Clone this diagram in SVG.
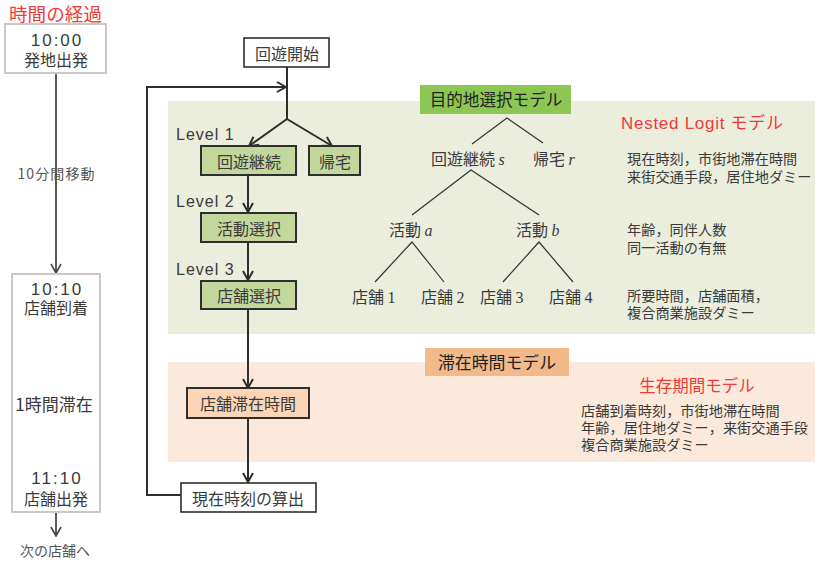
<svg xmlns="http://www.w3.org/2000/svg" width="819" height="562" viewBox="0 0 819 562">
<style>
text{font-family:"Noto Sans CJK JP","Noto Sans",sans-serif;fill:#3a3a3a}
.m{text-anchor:middle}
.c{stroke:#2e2e2e;stroke-width:2;fill:none}
.g{stroke:#5a5a5a;stroke-width:2;fill:none}
.t{stroke:#333;stroke-width:1.2;fill:none}
.n{font-size:16px}
.s{font-size:14.2px}
.lv{font-size:16px;font-family:"Liberation Sans",sans-serif;letter-spacing:1px}
.i{font-family:"Liberation Serif",serif;font-style:italic}
.d{font-family:"Liberation Serif",serif}
.gb{fill:#c3d69b;stroke:#2e2e2e;stroke-width:2}
.wb{fill:#fff;stroke:#2e2e2e;stroke-width:1.6}
.ob{fill:#fbd5b5;stroke:#2e2e2e;stroke-width:2}
.tb{fill:#fff;stroke:#c8c8c8;stroke-width:2}
.red{fill:#f03a3a}
.w{font-family:"Liberation Sans",sans-serif}
.tm{font-family:"Liberation Sans",sans-serif;font-size:17px;letter-spacing:2px}
</style>
<defs>
<marker id="a" viewBox="0 0 12 12" refX="11" refY="6" markerWidth="12" markerHeight="12" markerUnits="userSpaceOnUse" orient="auto"><path d="M2 1L11 6L2 11" fill="none" stroke="#2e2e2e" stroke-width="2"/></marker>
<marker id="b" viewBox="0 0 12 12" refX="11" refY="6" markerWidth="12" markerHeight="12" markerUnits="userSpaceOnUse" orient="auto"><path d="M2 1L11 6L2 11" fill="none" stroke="#444" stroke-width="1.6"/></marker>
</defs>
<g id="panels">
<rect x="168" y="101" width="647" height="233" fill="#ebeedd"/>
<rect x="168" y="362" width="647" height="100" fill="#fbeadb"/>
</g>
<g id="connectors">
<path class="g" d="M56 73V273" marker-end="url(#b)"/>
<path class="g" d="M56 512V536" marker-end="url(#b)"/>
<path class="c" d="M287 67V119"/>
<path class="c" d="M181 495H147V87H286" marker-end="url(#a)"/>
<path class="c" d="M287 119L249 146" marker-end="url(#a)"/>
<path class="c" d="M287 119L332 146" marker-end="url(#a)"/>
<path class="c" d="M248 175V212" marker-end="url(#a)"/>
<path class="c" d="M248 242V280" marker-end="url(#a)"/>
<path class="c" d="M248 309V388" marker-end="url(#a)"/>
<path class="c" d="M248 418V482" marker-end="url(#a)"/>
<path class="t" d="M472 144L507 118L543 143M412 215L471 170L539 215M375 282L412 242L444 282M503 282L539 242L573 282"/>
</g>
<g id="title"><text class="red" x="9" y="21" font-size="18.6">時間の経過</text></g>
<g id="t-start">
<rect class="tb" x="5" y="24" width="101" height="49"/>
<text class="m tm" x="57" y="46">10:00</text>
<text class="m" x="56" y="66" font-size="16">発地出発</text>
</g>
<text id="t-move" class="m" x="56" y="179" font-size="14" textLength="77" style="fill:#555">10分間移動</text>
<g id="t-stay">
<rect class="tb" x="12" y="274" width="88" height="238"/>
<text class="m tm" x="57" y="295">10:10</text>
<text class="m" x="56" y="314" font-size="16">店舗到着</text>
<text class="m" x="54" y="411" font-size="17">1時間滞在</text>
<text class="m tm" x="57" y="484">11:10</text>
<text class="m" x="56" y="505" font-size="16">店舗出発</text>
</g>
<text id="t-next" class="m" x="55" y="556" font-size="14" style="fill:#555">次の店舗へ</text>
<g id="n-start"><rect class="wb" x="244" y="38" width="85" height="29"/><text class="m n" x="287" y="60">回遊開始</text></g>
<g id="n-levels">
<text class="lv" x="176" y="140">Level 1</text>
<text class="lv" x="176" y="207">Level 2</text>
<text class="lv" x="176" y="275">Level 3</text>
</g>
<g id="n-cont"><rect class="gb" x="201" y="146" width="95" height="29"/><text class="m n" x="249" y="168">回遊継続</text></g>
<g id="n-home"><rect class="gb" x="309" y="146" width="51" height="29"/><text class="m n" x="335" y="168">帰宅</text></g>
<g id="n-act"><rect class="gb" x="201" y="213" width="95" height="29"/><text class="m n" x="249" y="235">活動選択</text></g>
<g id="n-shop"><rect class="gb" x="201" y="281" width="95" height="28"/><text class="m n" x="249" y="302">店舗選択</text></g>
<g id="n-dur"><rect class="ob" x="187" y="388" width="122" height="30"/><text class="m n" x="248" y="410">店舗滞在時間</text></g>
<g id="n-time"><rect class="wb" x="181" y="483" width="135" height="29"/><text class="m n" x="248" y="505">現在時刻の算出</text></g>
<g id="l-dest"><rect x="420" y="85" width="151" height="29" fill="#8cc653"/><text class="m" x="496" y="106" font-size="16.6" style="fill:#222">目的地選択モデル</text></g>
<g id="l-stay"><rect x="425" y="348" width="144" height="28" fill="#f2b98a"/><text class="m" x="497" y="369" font-size="16.9" style="fill:#222">滞在時間モデル</text></g>
<g id="tree">
<text class="n" x="431" y="165">回遊継続 <tspan class="i">s</tspan></text>
<text class="n" x="533" y="165">帰宅 <tspan class="i">r</tspan></text>
<text class="n" x="389" y="236">活動 <tspan class="i">a</tspan></text>
<text class="n" x="516" y="236">活動 <tspan class="i">b</tspan></text>
<text class="n" x="352" y="303">店舗 <tspan class="d">1</tspan></text>
<text class="n" x="421" y="303">店舗 <tspan class="d">2</tspan></text>
<text class="n" x="480" y="303">店舗 <tspan class="d">3</tspan></text>
<text class="n" x="549" y="303">店舗 <tspan class="d">4</tspan></text>
</g>
<text class="red" x="621" y="129" font-size="17" textLength="162"><tspan class="w">Nested Logit </tspan>モデル</text>
<g id="vars1">
<text class="s" x="627" y="164">現在時刻，市街地滞在時間</text>
<text class="s" x="627" y="182">来街交通手段，居住地ダミー</text>
<text class="s" x="627" y="235">年齢，同伴人数</text>
<text class="s" x="627" y="253">同一活動の有無</text>
<text class="s" x="627" y="301">所要時間，店舗面積，</text>
<text class="s" x="627" y="318">複合商業施設ダミー</text>
</g>
<text class="red m" x="697" y="392" font-size="16.5">生存期間モデル</text>
<g id="vars2">
<text class="s" x="581" y="416">店舗到着時刻，市街地滞在時間</text>
<text class="s" x="581" y="433">年齢，居住地ダミー，来街交通手段</text>
<text class="s" x="581" y="450">複合商業施設ダミー</text>
</g>
</svg>
